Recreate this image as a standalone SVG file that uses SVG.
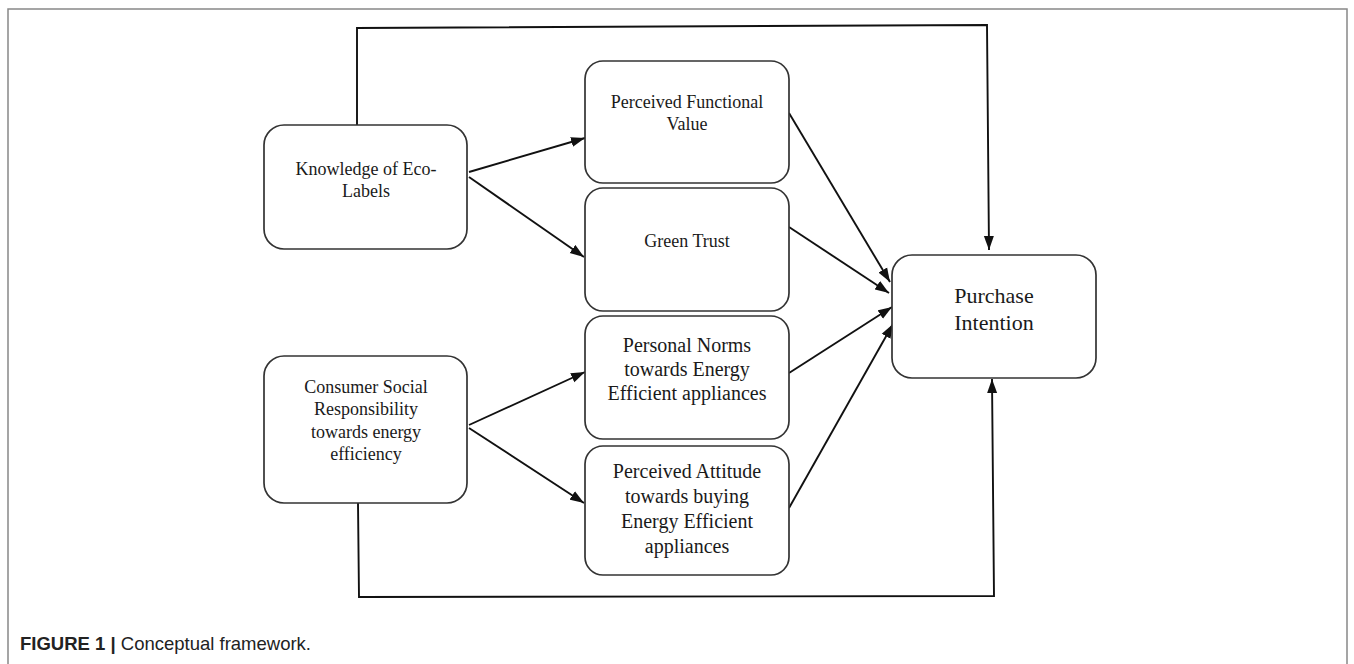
<svg xmlns="http://www.w3.org/2000/svg" width="1354" height="664" viewBox="0 0 1354 664">
<style>
.box{fill:#fff;stroke:#333;stroke-width:1.7}
.t{font-family:"Liberation Serif","Times New Roman",serif;font-size:18px;fill:#1a1a1a;text-anchor:middle}
.t20{font-size:20px}
.t22{font-size:22px}
.c{fill:none;stroke:#111;stroke-width:1.9}
.cap{font-family:"Liberation Sans",Arial,sans-serif;font-size:18.5px;fill:#222}
</style>
<defs>
<marker id="ah" markerUnits="userSpaceOnUse" markerWidth="15" markerHeight="11" refX="14" refY="5.5" orient="auto">
<path d="M0,0.5 L14,5.5 L0,10.5 z" fill="#111"/>
</marker>
</defs>
<rect x="0" y="0" width="1354" height="664" fill="#fff"/>
<path d="M8,700 L8,9 L1347,9 L1347,700" fill="none" stroke="#888" stroke-width="1.5"/>
<g id="connectors">
<polyline class="c" points="357,125 357,28 987,25 989,250" marker-end="url(#ah)"/>
<polyline class="c" points="358,503 359,597 994,596 992,379" marker-end="url(#ah)"/>
<line class="c" x1="469" y1="172" x2="585" y2="138" marker-end="url(#ah)"/>
<line class="c" x1="469" y1="177" x2="584" y2="257" marker-end="url(#ah)"/>
<line class="c" x1="469" y1="425" x2="585" y2="372" marker-end="url(#ah)"/>
<line class="c" x1="469" y1="428" x2="584" y2="503" marker-end="url(#ah)"/>
<line class="c" x1="789" y1="113" x2="890" y2="282" marker-end="url(#ah)"/>
<line class="c" x1="789" y1="227" x2="889" y2="293" marker-end="url(#ah)"/>
<line class="c" x1="789" y1="373" x2="892" y2="307" marker-end="url(#ah)"/>
<line class="c" x1="789" y1="508" x2="893" y2="324" marker-end="url(#ah)"/>
</g>
<g id="knowledge">
<rect class="box" x="264" y="125" width="203" height="124" rx="20"/>
<text class="t" x="366" y="175">Knowledge of Eco-</text>
<text class="t" x="366" y="197">Labels</text>
</g>
<g id="consumer">
<rect class="box" x="264" y="356" width="203" height="147" rx="20"/>
<text class="t" x="366" y="393">Consumer Social</text>
<text class="t" x="366" y="415">Responsibility</text>
<text class="t" x="366" y="438">towards energy</text>
<text class="t" x="366" y="460">efficiency</text>
</g>
<g id="pfv">
<rect class="box" x="585" y="61" width="204" height="122" rx="18"/>
<text class="t" x="687" y="108">Perceived Functional</text>
<text class="t" x="687" y="130">Value</text>
</g>
<g id="gt">
<rect class="box" x="585" y="188" width="204" height="123" rx="18"/>
<text class="t" x="687" y="247">Green Trust</text>
</g>
<g id="pn">
<rect class="box" x="585" y="316" width="204" height="123" rx="18"/>
<text class="t t20" x="687" y="352">Personal Norms</text>
<text class="t t20" x="687" y="376">towards Energy</text>
<text class="t t20" x="687" y="400">Efficient appliances</text>
</g>
<g id="pa">
<rect class="box" x="585" y="446" width="204" height="129" rx="18"/>
<text class="t t20" x="687" y="478">Perceived Attitude</text>
<text class="t t20" x="687" y="503">towards buying</text>
<text class="t t20" x="687" y="528">Energy Efficient</text>
<text class="t t20" x="687" y="553">appliances</text>
</g>
<g id="pi">
<rect class="box" x="892" y="255" width="204" height="123" rx="20"/>
<text class="t t22" x="994" y="303">Purchase</text>
<text class="t t22" x="994" y="330">Intention</text>
</g>
<text class="cap" x="20" y="650"><tspan font-weight="bold">FIGURE 1 |</tspan> Conceptual framework.</text>
</svg>
